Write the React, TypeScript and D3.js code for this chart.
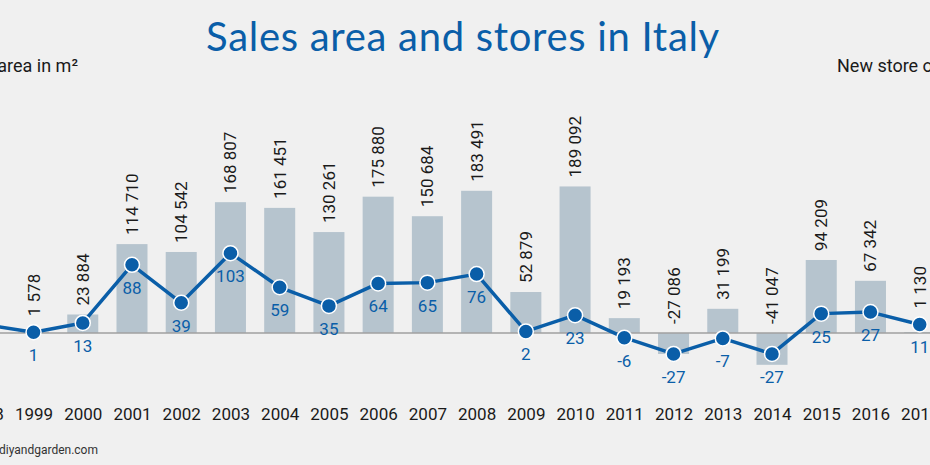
import React, { useEffect, useRef } from 'react'
import * as d3 from 'd3'

const years = ['1998', '1999', '2000', '2001', '2002', '2003', '2004', '2005', '2006', '2007',
  '2008', '2009', '2010', '2011', '2012', '2013', '2014', '2015', '2016', '2017']

// new sales area in m² (1998 bar lies outside the visible crop)
const salesArea: (number | null)[] = [null, 1578, 23884, 114710, 104542, 168807, 161451, 130261, 175880, 150684,
  183491, 52879, 189092, 19193, -27086, 31199, -41047, 94209, 67342, 1130]

// new store openings
const storeOpenings = [11, 1, 13, 88, 39, 103, 59, 35, 64, 65,
  76, 2, 23, -6, -27, -7, -27, 25, 27, 11]

const W = 930
const H = 465
const BLUE = '#0a5ea8'
const BAR = '#b6c4ce'

const fmt = (v: number) => {
  const s = d3.format(',')(Math.abs(v)).replace(/,/g, ' ')
  return v < 0 ? '-' + s : s
}

export default function App() {
  const svgRef = useRef<SVGSVGElement>(null)

  useEffect(() => {
    if (!svgRef.current) return
    const svg = d3.select(svgRef.current)
    svg.selectAll('*').remove()

    const x = d3.scalePoint<string>().domain(years).range([-15.7, 919.7])
    const step = x.step()
    const barW = step * 0.63

    const yArea = d3.scaleLinear().domain([-50000, 200000]).range([371.75, 178])
    const yStores = d3.scaleLinear().domain([-50, 200]).range([371.75, 178])
    const base = yArea(0)

    svg.append('rect').attr('width', W).attr('height', H).attr('fill', '#f0f0f0')

    // title
    svg.append('text')
      .attr('x', 463).attr('y', 51)
      .attr('text-anchor', 'middle')
      .attr('font-family', 'Lato, sans-serif')
      .attr('font-size', 40)
      .attr('letter-spacing', 0.7)
      .attr('fill', BLUE)
      .text('Sales area and stores in Italy')

    svg.append('text')
      .attr('x', 78).attr('y', 72)
      .attr('text-anchor', 'end')
      .attr('font-family', 'Roboto, sans-serif')
      .attr('font-size', 18)
      .attr('fill', '#1a1a1a')
      .text('Sales area in m²')

    svg.append('text')
      .attr('x', 837).attr('y', 72)
      .attr('font-family', 'Roboto, sans-serif')
      .attr('font-size', 18)
      .attr('fill', '#1a1a1a')
      .text('New store openings')

    // bars
    const barData = years.map((yr, i) => ({ yr, v: salesArea[i], s: storeOpenings[i] }))
    svg.append('g')
      .selectAll('rect')
      .data(barData.filter(d => d.v !== null))
      .join('rect')
      .attr('x', d => x(d.yr)! - barW / 2)
      .attr('width', barW)
      .attr('y', d => Math.min(yArea(d.v as number), base))
      .attr('height', d => Math.abs(yArea(d.v as number) - base))
      .attr('fill', BAR)

    // zero line
    svg.append('line')
      .attr('x1', 0).attr('x2', W)
      .attr('y1', base).attr('y2', base)
      .attr('stroke', '#a0a0a0')
      .attr('stroke-width', 1.5)

    // bar value labels (rotated)
    svg.append('g')
      .selectAll('text')
      .data(barData.filter(d => d.v !== null))
      .join('text')
      .attr('transform', d => {
        const top = Math.min(yArea(d.v as number), yStores(d.s) - 7, base) - 9
        return `translate(${x(d.yr)! + 6},${top}) rotate(-90)`
      })
      .attr('font-family', 'Roboto, sans-serif')
      .attr('font-size', 17)
      .attr('fill', '#1a1a1a')
      .text(d => fmt(d.v as number))

    // store line
    const line = d3.line<number>()
      .x((_, i) => x(years[i])!)
      .y(d => yStores(d))
    svg.append('path')
      .datum(storeOpenings)
      .attr('d', line)
      .attr('fill', 'none')
      .attr('stroke', BLUE)
      .attr('stroke-width', 3.5)
      .attr('stroke-linejoin', 'round')

    svg.append('g')
      .selectAll('circle')
      .data(storeOpenings)
      .join('circle')
      .attr('cx', (_, i) => x(years[i])!)
      .attr('cy', d => yStores(d))
      .attr('r', 7.5)
      .attr('fill', BLUE)
      .attr('stroke', '#ffffff')
      .attr('stroke-width', 1.5)

    // store labels (1998 label lies outside the crop)
    svg.append('g')
      .selectAll('text')
      .data(storeOpenings.map((s, i) => ({ s, yr: years[i] })).slice(1))
      .join('text')
      .attr('x', d => x(d.yr)!)
      .attr('y', d => yStores(d.s) + 29)
      .attr('text-anchor', 'middle')
      .attr('font-family', 'Roboto, sans-serif')
      .attr('font-size', 17)
      .attr('fill', BLUE)
      .text(d => String(d.s))

    // year axis
    const axis = svg.append('g').attr('transform', 'translate(0,420)')
      .call(d3.axisBottom(x).tickSize(0).tickPadding(0))
    axis.select('.domain').remove()
    axis.selectAll('text')
      .attr('dy', 0)
      .attr('font-family', 'Roboto, sans-serif')
      .attr('font-size', 17)
      .attr('fill', '#1a1a1a')

    svg.append('text')
      .attr('x', -1).attr('y', 454)
      .attr('font-family', 'Roboto, sans-serif')
      .attr('font-size', 12)
      .attr('fill', '#333333')
      .text('diyandgarden.com')
  }, [])

  return (
    <svg
      ref={svgRef}
      width={W}
      height={H}
      style={{ position: 'fixed', left: 0, top: 0, display: 'block' }}
    />
  )
}
